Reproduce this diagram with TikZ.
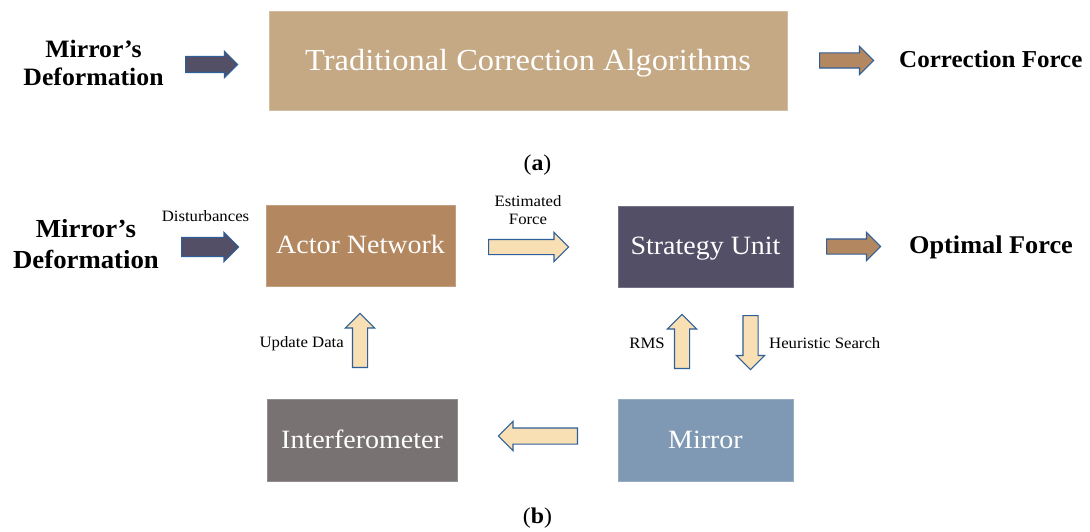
\documentclass[tikz,border=0pt]{standalone}
\usepackage{fontspec}
\setmainfont{Liberation Serif}
\newfontfamily\pr[FakeStretch=1.06]{Liberation Serif}
\newfontfamily\pb[FakeStretch=1.03]{Liberation Serif}
\usetikzlibrary{shapes.arrows}
\definecolor{tradfill}{HTML}{C5A984}
\definecolor{actorfill}{HTML}{B3875F}
\definecolor{stratfill}{HTML}{524F67}
\definecolor{interffill}{HTML}{787272}
\definecolor{mirrorfill}{HTML}{7F98B3}
\definecolor{arrowlight}{HTML}{F8DFB4}
\definecolor{arrowedge}{HTML}{2F5F98}
\tikzset{
  box/.style={rectangle, inner sep=0pt, text=white, line width=0.8pt,
    text height=16.5pt, text depth=0pt, font=\pr\fontsize{26.4}{30}\selectfont},
  blk/.style n args={3}{single arrow, draw=arrowedge, line width=1.1pt,
    inner xsep=0pt, inner ysep=#2, anchor=tail, minimum height=#1, minimum width=0pt,
    single arrow head extend=#3, single arrow tip angle=90},
  lab/.style={inner sep=0pt, font=\pr\fontsize{15.8}{18}\selectfont},
  big/.style={inner sep=0pt, align=center},
}
\begin{document}
\begin{tikzpicture}[x=1pt,y=-1pt]
\useasboundingbox (0,0) rectangle (1090,532);
% (a)
\node[big, font=\pb\bfseries\fontsize{25}{28}\selectfont] (defa) at (93.5,62.5) {Mirror’s\\Deformation};
\node[box, fill=tradfill, draw=tradfill!75!white, minimum width=518, minimum height=99,
  text height=19.5pt, font=\pr\fontsize{30.6}{34}\selectfont] (trad) at (528,60.5) {Traditional Correction Algorithms};
\node[inner sep=0pt, anchor=base west, font=\pb\bfseries\fontsize{24.3}{28}\selectfont] (cf) at (899,68) {Correction Force};
\node[blk={52}{7.5}{5}, fill=stratfill] (a1) at (185,64.5) {};
\node[blk={54}{7}{6.5}, fill=actorfill] (a2) at (819,60.5) {};
\node[inner sep=0pt, anchor=base, font=\pr\fontsize{22.5}{26}\selectfont] (capa) at (537.5,171) {(\textbf{a})};
% (b)
\node[big, font=\pb\bfseries\fontsize{26}{31}\selectfont] (defb) at (86,244.5) {Mirror’s\\Deformation};
\node[box, fill=actorfill, draw=actorfill!80!white, minimum width=189, minimum height=81] (actor) at (360.5,245.5) {Actor Network};
\node[box, fill=stratfill, draw=stratfill!80!white, minimum width=175, minimum height=81] (strat) at (705.5,246.5) {Strategy Unit};
\node[box, fill=interffill, draw=interffill!80!white, minimum width=190, minimum height=82] (interf) at (362,440) {Interferometer};
\node[box, fill=mirrorfill, draw=mirrorfill!80!white, minimum width=175, minimum height=82] (mirror) at (705.5,440) {Mirror};
\node[inner sep=0pt, anchor=base west, font=\pb\bfseries\fontsize{25.5}{30}\selectfont] (of) at (909,253) {Optimal Force};
\node[blk={57}{9}{5}, fill=stratfill] (a3) at (181,247) {};
\node[blk={80}{7}{7}, fill=arrowlight] (a4) at (488,247) {};
\node[blk={54}{7}{6.5}, fill=actorfill] (a5) at (826,246.5) {};
\node[blk={54}{7}{7}, fill=arrowlight, rotate=90] (a6) at (360,368) {};
\node[blk={54}{7}{7}, fill=arrowlight, rotate=90] (a7) at (682,369) {};
\node[blk={54}{7}{6.5}, fill=arrowlight, rotate=-90] (a8) at (750.5,315) {};
\node[blk={79}{7.5}{6.5}, fill=arrowlight, rotate=180] (a9) at (578,436) {};
\node[lab, anchor=base] (dist) at (205.5,222) {Disturbances};
\node[lab, align=center] (est) at (528,210) {Estimated\\Force};
\node[lab, anchor=base east] (upd) at (344,347) {Update Data};
\node[lab, anchor=base east] (rms) at (665,348) {RMS};
\node[lab, anchor=base west] (heur) at (769,348) {Heuristic Search};
\node[inner sep=0pt, anchor=base, font=\pr\fontsize{22.5}{26}\selectfont] (capb) at (537.5,523) {(\textbf{b})};
\end{tikzpicture}
\end{document}
